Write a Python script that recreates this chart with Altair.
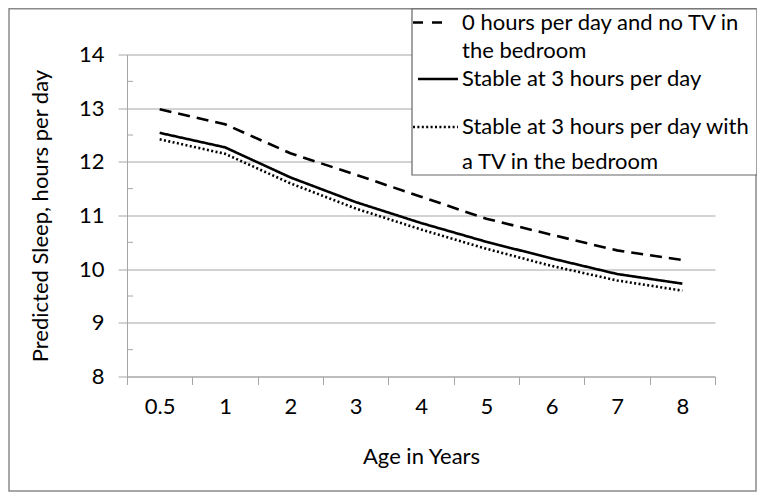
import altair as alt
import pandas as pd

ages = ["0.5", "1", "2", "3", "4", "5", "6", "7", "8"]
series_names = [
    "0 hours per day and no TV in the bedroom",
    "Stable at 3 hours per day",
    "Stable at 3 hours per day with a TV in the bedroom",
]
legend_lines = [
    ["0 hours per day and no TV in", "the bedroom"],
    ["Stable at 3 hours per day"],
    ["Stable at 3 hours per day with", "a TV in the bedroom"],
]
no_tv = [12.98, 12.70, 12.16, 11.76, 11.35, 10.94, 10.64, 10.35, 10.17]
stable3 = [12.54, 12.27, 11.71, 11.25, 10.86, 10.51, 10.20, 9.91, 9.73]
stable3_tv = [12.42, 12.15, 11.60, 11.13, 10.74, 10.38, 10.06, 9.79, 9.60]
y_ticks = [8, 9, 10, 11, 12, 13, 14]
y_minor = [8.5, 9.5, 10.5, 11.5, 12.5, 13.5]

rows = []
for name, vals in zip(series_names, [no_tv, stable3, stable3_tv]):
    for a, v in zip(ages, vals):
        rows.append({"age": a, "sleep": v, "series": name})
df = pd.DataFrame(rows)

FONT = "Lato"
FS = 22
GRID = "#a6a6a6"
DASHES = [[12, 7], [1, 0], [2, 2.4]]
LEGEND_DASHES = [[10, 9], [1, 0], [2, 2.4]]

lines = alt.Chart(df).mark_line(color="black", strokeWidth=2.6).encode(
    x=alt.X(
        "age:O",
        sort=ages,
        bandPosition=0.5,
        scale=alt.Scale(type="band", paddingInner=0, paddingOuter=0),
        axis=alt.Axis(
            title="Age in Years",
            tickBand="extent",
            labelAngle=0,
            grid=False,
            domainColor=GRID,
            tickColor=GRID,
            tickSize=8,
            labelPadding=12,
            titlePadding=29,
        ),
    ),
    y=alt.Y(
        "sleep:Q",
        scale=alt.Scale(domain=[8, 14], nice=False, zero=False),
        axis=alt.Axis(
            title="Predicted Sleep, hours per day",
            values=y_ticks,
            format="d",
            grid=True,
            gridColor=GRID,
            domainColor=GRID,
            tickColor=GRID,
            tickSize=9,
            labelPadding=14,
            titlePadding=26,
        ),
    ),
    strokeDash=alt.StrokeDash(
        "series:N",
        sort=series_names,
        scale=alt.Scale(domain=series_names, range=DASHES),
        legend=None,
    ),
)

minor = alt.Chart(pd.DataFrame({"v": y_minor})).mark_rule(color=GRID, strokeWidth=1).encode(
    y="v:Q",
    x=alt.value(0),
    x2=alt.value(6),
)

one = pd.DataFrame({"k": [0]})

frame = alt.Chart(one).mark_rect(
    fill=None, stroke="#8a8a8a", strokeWidth=1.5
).encode(
    x=alt.value(-118),
    x2=alt.value(629),
    y=alt.value(-45.7),
    y2=alt.value(436.5),
)

# legend (box with line samples and labels)
legend_box = alt.Chart(one).mark_rect(
    fill="white", stroke="#666666", strokeWidth=1.2
).encode(
    x=alt.value(285),
    x2=alt.value(630),
    y=alt.value(-45.5),
    y2=alt.value(120.5),
)

sym_x = [(286, 316), (291, 331), (286, 331)]
sym_y = [-32, 24.5, 72.5]
line_y = [[-32, -4], [24.5], [72.5, 107.5]]
legend_layers = [legend_box]
for i in range(3):
    legend_layers.append(
        alt.Chart(one).mark_rule(color="black", strokeWidth=2.6, strokeDash=LEGEND_DASHES[i]).encode(
            x=alt.value(sym_x[i][0]), x2=alt.value(sym_x[i][1]), y=alt.value(sym_y[i])
        )
    )
    for txt, yy in zip(legend_lines[i], line_y[i]):
        legend_layers.append(
            alt.Chart(one).mark_text(
                align="left", baseline="middle", font=FONT, fontSize=FS, color="black"
            ).encode(x=alt.value(335), y=alt.value(yy), text=alt.value(txt))
        )

chart = alt.layer(frame, minor, lines, *legend_layers).properties(
    width=588,
    height=322,
    padding={"left": 119, "top": 46.5, "right": 42, "bottom": 115.5},
    autosize=alt.AutoSizeParams(type="none"),
).configure_view(stroke=None).configure_axis(
    labelFont=FONT,
    titleFont=FONT,
    labelFontSize=FS,
    titleFontSize=FS,
    titleFontWeight="normal",
    labelColor="black",
    titleColor="black",
)

chart.save("out.html", embed_options={"renderer": "svg", "actions": False})
